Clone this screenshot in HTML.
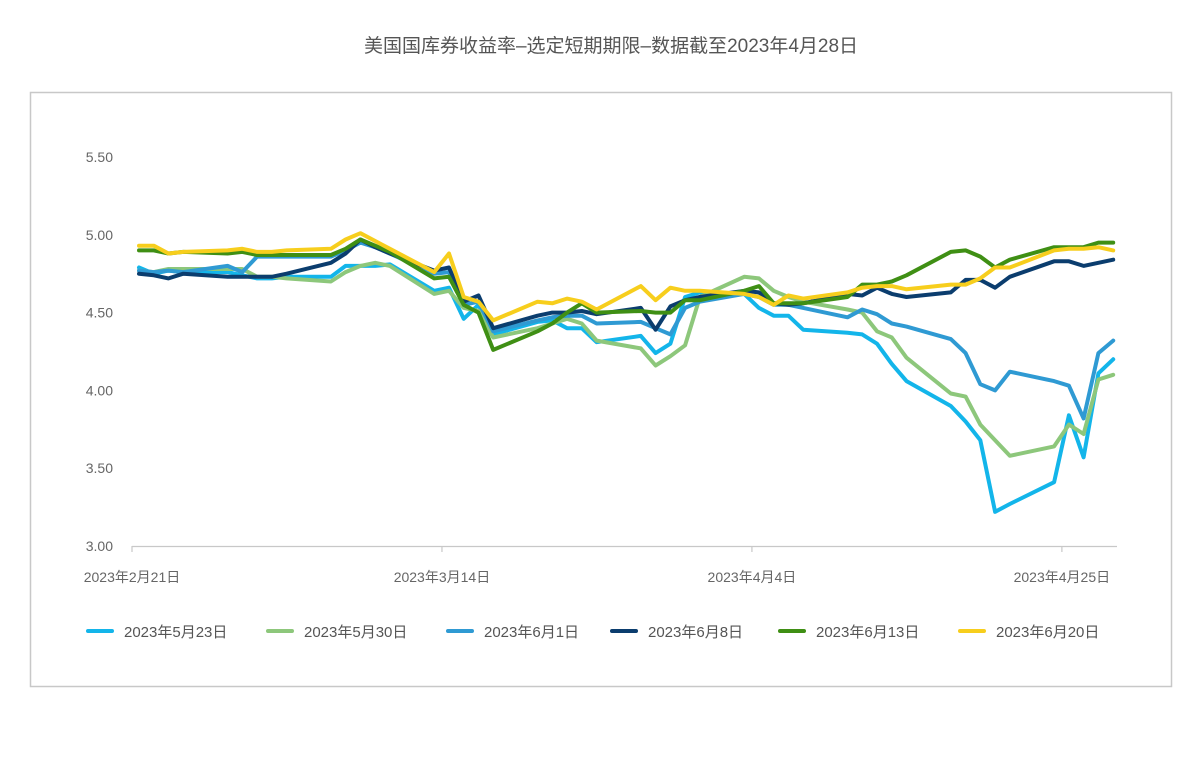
<!DOCTYPE html>
<html><head><meta charset="utf-8"><style>
body{margin:0;background:#fff;width:1202px;height:769px;overflow:hidden;font-family:"Liberation Sans","Noto Sans CJK SC",sans-serif}
</style></head><body>
<svg id="chart" width="1202" height="769" xmlns="http://www.w3.org/2000/svg" font-family="Liberation Sans, Noto Sans CJK SC, sans-serif">
<text x="611" y="52" text-anchor="middle" font-size="19" fill="#555">美国国库券收益率–选定短期期限–数据截至2023年4月28日</text>
<rect x="30.5" y="92.5" width="1141" height="594" fill="none" stroke="#c8c8c8" stroke-width="1.5"/>
<g id="yaxis"></g>
<g id="xaxis"></g>
<g id="series"></g>
<g id="legend"></g>
</svg>
<script>
const days=[0,1,2,3,6,7,8,9,10,13,14,15,16,17,20,21,22,23,24,27,28,29,30,31,34,35,36,37,38,41,42,43,44,45,48,49,50,51,52,55,56,57,58,59,62,63,64,65,66];
const yTicks=[3.0,3.5,4.0,4.5,5.0,5.5];
const yTickLabels=["3.00","3.50","4.00","4.50","5.00","5.50"];
const xTickDays=[0,21,42,63];
const xTickLabels=["2023年2月21日","2023年3月14日","2023年4月4日","2023年4月25日"];
const seriesNames=["2023年5月23日","2023年5月30日","2023年6月1日","2023年6月8日","2023年6月13日","2023年6月20日"];
const s0523=[4.79,4.75,4.77,4.76,4.76,4.74,4.72,4.72,4.73,4.73,4.80,4.80,4.80,4.81,4.64,4.66,4.46,4.55,4.36,4.44,4.45,4.40,4.40,4.31,4.35,4.24,4.30,4.60,4.63,4.62,4.53,4.48,4.48,4.39,4.37,4.36,4.30,4.17,4.06,3.90,3.80,3.68,3.22,3.27,3.41,3.84,3.57,4.11,4.20];
const s0530=[4.77,4.76,4.78,4.78,4.78,4.78,4.73,4.73,4.72,4.70,4.76,4.80,4.82,4.80,4.62,4.64,4.53,4.51,4.34,4.40,4.43,4.46,4.43,4.32,4.27,4.16,4.22,4.29,4.60,4.73,4.72,4.64,4.60,4.57,4.52,4.50,4.38,4.34,4.21,3.98,3.96,3.78,3.68,3.58,3.64,3.78,3.72,4.07,4.10];
const s0601=[4.77,4.76,4.77,4.76,4.80,4.76,4.86,4.86,4.86,4.86,4.90,4.95,4.92,4.88,4.75,4.76,4.55,4.57,4.38,4.45,4.47,4.48,4.48,4.43,4.44,4.40,4.36,4.53,4.57,4.62,4.60,4.55,4.55,4.53,4.47,4.52,4.49,4.43,4.41,4.33,4.24,4.04,4.00,4.12,4.06,4.03,3.82,4.24,4.32];
const s0608=[4.75,4.74,4.72,4.75,4.73,4.73,4.73,4.73,4.75,4.82,4.88,4.97,4.92,4.88,4.77,4.79,4.57,4.61,4.40,4.48,4.50,4.50,4.51,4.49,4.53,4.39,4.54,4.58,4.60,4.64,4.63,4.56,4.55,4.56,4.62,4.61,4.66,4.62,4.60,4.63,4.71,4.71,4.66,4.73,4.83,4.83,4.80,4.82,4.84];
const s0613=[4.90,4.90,4.88,4.89,4.88,4.89,4.87,4.87,4.87,4.87,4.91,4.97,4.93,4.89,4.72,4.73,4.55,4.50,4.26,4.38,4.43,4.50,4.56,4.50,4.51,4.50,4.50,4.58,4.58,4.64,4.67,4.56,4.56,4.56,4.60,4.68,4.68,4.70,4.74,4.89,4.90,4.86,4.79,4.84,4.92,4.92,4.92,4.95,4.95];
const s0620=[4.93,4.93,4.88,4.89,4.90,4.91,4.89,4.89,4.90,4.91,4.97,5.01,4.96,4.91,4.76,4.88,4.60,4.57,4.45,4.57,4.56,4.59,4.57,4.52,4.67,4.58,4.66,4.64,4.64,4.62,4.60,4.55,4.61,4.59,4.63,4.66,4.67,4.67,4.65,4.68,4.68,4.72,4.79,4.79,4.90,4.91,4.91,4.92,4.90];
const allSeries=[s0523,s0530,s0601,s0608,s0613,s0620];
const colors=["#13b5ea","#8dc77b","#2f9ad3","#0b3d6e","#3f8f14","#f7ce1d"];
const NS="http://www.w3.org/2000/svg";
function x(d){return 139+d*14.76;}
function y(v){return 546-(v-3)*155.6;}
function mk(tag,attrs,parent){const e=document.createElementNS(NS,tag);for(const k in attrs)e.setAttribute(k,attrs[k]);parent.appendChild(e);return e;}
const ya=document.getElementById('yaxis');
yTicks.forEach((t,i)=>{
  const tx=mk('text',{x:113,y:y(t)+5,'text-anchor':'end','font-size':14,fill:'#666'},ya);
  
  
  tx.textContent=yTickLabels[i];
});
const xa=document.getElementById('xaxis');
const base=mk('line',{x1:132,x2:1117,y1:546.5,y2:546.5,stroke:'#c8c8c8','stroke-width':1.2},xa);


xTickDays.forEach((d,i)=>{
  const px=x(d)-7;
  const tk=mk('line',{x1:px,x2:px,y1:546,y2:552,stroke:'#c8c8c8','stroke-width':1.2},xa);
  
  
  const tx=mk('text',{x:px,y:582,'text-anchor':'middle','font-size':14,fill:'#666'},xa);
  
  
  tx.textContent=xTickLabels[i];
});
const sg=document.getElementById('series');
allSeries.forEach((s,i)=>{
  const pts=s.map((v,j)=>x(days[j]).toFixed(1)+','+y(v).toFixed(1)).join(' ');
  const pl=mk('polyline',{points:pts,fill:'none',stroke:colors[i],'stroke-width':4,'stroke-linejoin':'round','stroke-linecap':'round'},sg);
  
  
});
const lg=document.getElementById('legend');
const lx=[88,268,448,612,780,960];
seriesNames.forEach((n,i)=>{
  const ln=mk('line',{x1:lx[i],x2:lx[i]+24,y1:631,y2:631,stroke:colors[i],'stroke-width':4,'stroke-linecap':'round'},lg);
  
  
  const tx=mk('text',{x:lx[i]+36,y:637,'font-size':15,fill:'#555'},lg);
  
  
  tx.textContent=n;
});
</script>
</body></html>
